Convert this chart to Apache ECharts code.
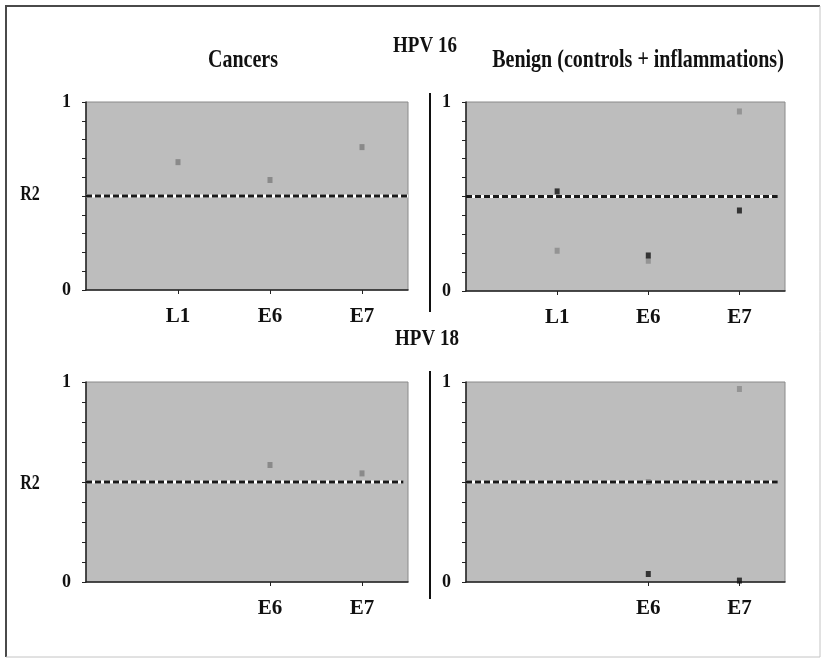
<!DOCTYPE html>
<html>
<head>
<meta charset="utf-8">
<script src="https://cdn.jsdelivr.net/npm/echarts@6/dist/echarts.min.js"></script>
<style>
  html, body { margin: 0; padding: 0; background: #fff; }
  #chart { width: 827px; height: 661px; }
</style>
</head>
<body>
<div id="chart"></div>
<script>
(function() {
    // gene slots on the x axis (value positions 1..3)
    const genes = ['L1', 'E6', 'E7'];
    const hpv18Genes = ['E6', 'E7'];
    const yTickLabels = [0, 1];
    const threshold = 0.5;

    // R2 values
    const hpv16CancerGray = [0.68, 0.585, 0.76];
    const hpv16BenignGray = [0.213, 0.16, 0.95];
    const hpv16BenignBlack = [0.527, 0.188, 0.426];
    const hpv18CancerGray = [0.585, 0.543];
    const hpv18BenignGray = [0.50, 0.965];
    const hpv18BenignBlack = [0.04, 0.007];

    const chart = echarts.init(document.getElementById('chart'), null, { renderer: 'canvas' });
    const serif = 'Liberation Serif';

    const pts = (names, vals) => names.map((g, i) => [genes.indexOf(g) + 1, vals[i]]);

    const grids = [
        { left: 86, top: 102, width: 322, height: 188 },
        { left: 466, top: 102, width: 319, height: 189 },
        { left: 86, top: 382, width: 322, height: 200 },
        { left: 466, top: 382, width: 319, height: 200 }
    ].map(g => Object.assign(g, {
        show: true, backgroundColor: '#bdbdbd', borderColor: '#8a8a8a', borderWidth: 1
    }));

    const xAxes = [0, 1, 2, 3].map(i => ({
        type: 'value', gridIndex: i, min: 0, max: 3.5, interval: 0.5,
        axisLine: { show: true, onZero: false, lineStyle: { color: '#222', width: 1.5 } },
        axisTick: { show: true, length: 4, customValues: i < 2 ? [1, 2, 3] : [2, 3],
                    lineStyle: { color: '#222' } },
        axisLabel: {
            show: true, customValues: i < 2 ? [1, 2, 3] : [2, 3],
            formatter: v => genes[Math.round(v) - 1] || '',
            margin: 16, color: '#111', fontFamily: serif, fontWeight: 'bold', fontSize: 21
        },
        splitLine: { show: false }
    }));

    const yAxes = [0, 1, 2, 3].map(i => ({
        type: 'value', gridIndex: i, min: 0, max: 1, interval: 0.1,
        axisLine: { show: true, onZero: false, lineStyle: { color: '#222', width: 1.5 } },
        axisTick: { show: true, length: 4, lineStyle: { color: '#222' } },
        axisLabel: {
            show: true, customValues: yTickLabels, margin: 15,
            padding: [0, 0, 10, 0],
            color: '#111', fontFamily: serif, fontWeight: 'bold', fontSize: 18
        },
        splitLine: { show: false }
    }));

    const square = { symbol: 'rect', symbolSize: [5, 6] };
    const scatter = (i, data, color) => Object.assign({
        type: 'scatter', xAxisIndex: i, yAxisIndex: i, data: data, z: 3,
        itemStyle: { color: color }, silent: true
    }, square);

    // dashed threshold line: white underlay + black dashes
    const thresholdLine = (i, xEnd) => [
        { type: 'line', xAxisIndex: i, yAxisIndex: i, z: 4, symbol: 'none', silent: true,
          data: [[0, threshold], [xEnd, threshold]], lineStyle: { color: '#fff', width: 3 } },
        { type: 'line', xAxisIndex: i, yAxisIndex: i, z: 5, symbol: 'none', silent: true,
          data: [[0, threshold], [xEnd, threshold]],
          lineStyle: { color: '#1a1a1a', width: 3, type: [6, 3] } }
    ];

    const series = [
        scatter(0, pts(genes, hpv16CancerGray), '#7d7d7d'),
        scatter(1, pts(genes, hpv16BenignGray), '#8a8a8a'),
        scatter(1, pts(genes, hpv16BenignBlack), '#111'),
        scatter(2, pts(hpv18Genes, hpv18CancerGray), '#7d7d7d'),
        scatter(3, pts(hpv18Genes, hpv18BenignGray), '#8a8a8a'),
        scatter(3, pts(hpv18Genes, hpv18BenignBlack), '#111'),
        ...thresholdLine(0, 3.5),
        ...thresholdLine(1, 3.42),
        ...thresholdLine(2, 3.45),
        ...thresholdLine(3, 3.42)
    ];

    const text = (x, y, str, size) => ({
        type: 'text', x: x, y: y, scaleY: 1.25,
        style: { text: str, fill: '#111', font: 'bold ' + size + 'px ' + serif,
                 align: 'center', verticalAlign: 'middle' }
    });

    const option = {
        backgroundColor: '#fff',
        animation: false,
        grid: grids,
        xAxis: xAxes,
        yAxis: yAxes,
        series: series,
        graphic: [
            // outer frame
            { type: 'polyline', shape: { points: [[6, 657], [6, 6], [820, 6]] },
              style: { stroke: '#4a4a4a', lineWidth: 2, fill: null } },
            { type: 'polyline', shape: { points: [[820, 6], [820, 657], [6, 657]] },
              style: { stroke: '#c4c4c4', lineWidth: 1, fill: null } },
            // separators between columns
            { type: 'line', shape: { x1: 430, y1: 93, x2: 430, y2: 312 },
              style: { stroke: '#111', lineWidth: 2 } },
            { type: 'line', shape: { x1: 430, y1: 371, x2: 430, y2: 599 },
              style: { stroke: '#111', lineWidth: 2 } },
            text(425, 46, 'HPV 16', 19),
            text(243, 61, 'Cancers', 20),
            text(638, 61, 'Benign (controls + inflammations)', 20),
            text(427, 339, 'HPV 18', 19),
            text(30, 195, 'R2', 16),
            text(30, 484, 'R2', 16)
        ]
    };

    chart.setOption(option);
    window.addEventListener('resize', () => chart.resize());
})();
</script>
</body>
</html>
